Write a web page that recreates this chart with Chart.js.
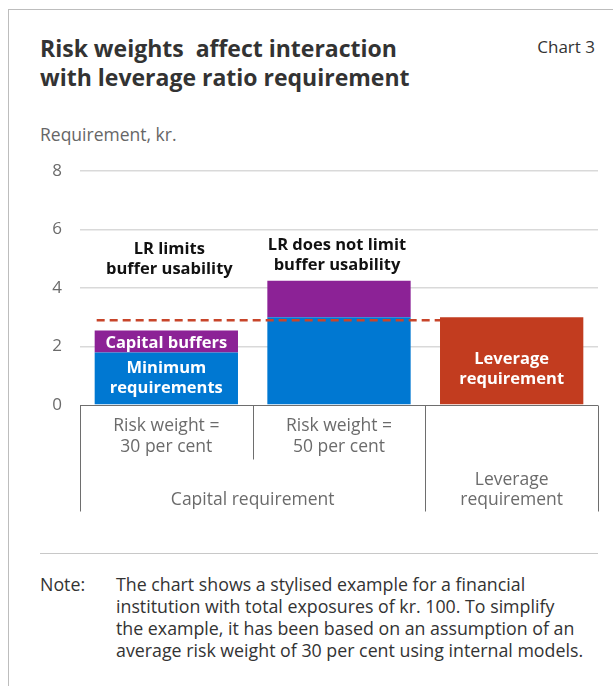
<!DOCTYPE html>
<html>
<head>
<meta charset="utf-8">
<script src="https://cdn.jsdelivr.net/npm/chart.js@4/dist/chart.umd.min.js"></script>
<style>
  body { margin: 0; background: #fff; font-family: "Open Sans", sans-serif; color: #333; }
  #frame { position: absolute; left: 8px; top: 9px; width: 640px; height: 720px;
           border-left: 1px solid #bdbdbd; border-top: 1px solid #bdbdbd; }
  .title { position: absolute; left: 40px; top: 34px; font-weight: bold; font-size: 23px;
           line-height: 29px; color: #333; white-space: nowrap; }
  .chartno { position: absolute; right: 18px; top: 36px; font-size: 17px; line-height: 22px; color: #333; }
  .unit { position: absolute; left: 40px; top: 123px; font-size: 17.5px; line-height: 22px; color: #666; }
  #wrap { position: absolute; left: 0; top: 143px; width: 613px; height: 380px; }
  .sep { position: absolute; left: 40px; top: 553px; width: 558px; border-top: 1px solid #c8c8c8; }
  .note { position: absolute; left: 40px; top: 573px; font-size: 17.8px; line-height: 22px; color: #333; }
  .note span { position: absolute; left: 76px; top: 0; white-space: nowrap; }
</style>
</head>
<body>
<div id="frame"></div>
<div class="title">Risk weights&nbsp; affect interaction<br>with leverage ratio requirement</div>
<div class="chartno">Chart 3</div>
<div class="unit">Requirement, kr.</div>
<div id="wrap"><canvas id="chart" width="613" height="380"></canvas></div>
<div class="sep"></div>
<div class="note">Note:<span>The chart shows a stylised example for a financial<br>institution with total exposures of kr. 100. To simplify<br>the example, it has been based on an assumption of an<br>average risk weight of 30 per cent using internal models.</span></div>

<script>
// categories and values (kr. per kr. 100 exposure)
const categories = ['rw30', 'rw50', 'lr'];
const minimumReq = [1.8, 3.0, null];
const capitalBuffers = [0.75, 1.25, null];
const leverageReq = [null, null, 3.0];
const leverageLine = 2.9;
const yTicks = [0, 2, 4, 6, 8];

// axis text under the bars
const subLabels = [['Risk weight =', '30 per cent'], ['Risk weight =', '50 per cent'], []];
const groupLabels = [
  { from: 0, to: 1, lines: ['Capital requirement'] },
  { from: 2, to: 2, lines: ['Leverage', 'requirement'] }
];
// text written inside the bar segments
const segmentText = [
  [['Minimum', 'requirements'], null, null],
  [['Capital buffers'], null, null],
  [null, null, ['Leverage', 'requirement']]
];
// remarks above the first two bars
const remarks = [['LR limits', 'buffer usability'], ['LR does not limit', 'buffer usability']];

const FONT = '"Open Sans", sans-serif';

const overlay = {
  id: 'overlay',
  afterDatasetsDraw(chart) {
    const ctx = chart.ctx;
    const x = chart.scales.x, y = chart.scales.y;

    // white labels inside the segments
    ctx.save();
    ctx.fillStyle = '#fff';
    ctx.font = 'bold 16.5px ' + FONT;
    ctx.textAlign = 'center';
    ctx.textBaseline = 'middle';
    segmentText.forEach((row, di) => {
      const meta = chart.getDatasetMeta(di);
      row.forEach((lines, i) => {
        if (!lines) return;
        const bar = meta.data[i];
        let cy = (bar.y + bar.base) / 2;
        if (di === 2) cy += 9;
        if (di === 1) cy += 2;
        lines.forEach((t, k) => ctx.fillText(t, bar.x, cy + (k - (lines.length - 1) / 2) * 20));
      });
    });

    // dashed leverage line from first bar to the leverage bar
    const b0 = chart.getDatasetMeta(0).data[0];
    const b2 = chart.getDatasetMeta(2).data[2];
    const ly = y.getPixelForValue(leverageLine);
    ctx.strokeStyle = '#c8452a';
    ctx.lineWidth = 2.5;
    ctx.setLineDash([8, 5]);
    ctx.beginPath();
    ctx.moveTo(b0.x - b0.width / 2 + 2, ly);
    ctx.lineTo(b2.x - b2.width / 2, ly);
    ctx.stroke();
    ctx.setLineDash([]);

    // remarks above bars
    ctx.fillStyle = '#111';
    ctx.font = 'bold 16.5px ' + FONT;
    const remarkLevel = [4.97, 5.12];
    remarks.forEach((lines, i) => {
      const cx = x.getPixelForValue(i) + (i === 0 ? 3 : -2);
      const cy = y.getPixelForValue(remarkLevel[i]);
      lines.forEach((t, k) => ctx.fillText(t, cx, cy + (k - 0.5) * 20));
    });
    ctx.restore();
  },
  afterDraw(chart) {
    const ctx = chart.ctx;
    const x = chart.scales.x, y = chart.scales.y;
    const n = categories.length;
    const cw = (x.right - x.left) / n;
    const top = y.getPixelForValue(0) + 0.5;
    const bottom = top + 106;
    const midDivider = top + 54;

    ctx.save();
    ctx.strokeStyle = '#6e6e6e';
    ctx.lineWidth = 1;
    ctx.beginPath();
    ctx.moveTo(x.left, top);
    ctx.lineTo(x.right, top);
    for (let i = 0; i <= n; i++) {
      const px = Math.round(x.left + i * cw) + 0.5;
      const inner = groupLabels.every(g => i !== g.from && i !== g.to + 1);
      ctx.moveTo(px, top);
      ctx.lineTo(px, inner ? midDivider : bottom);
    }
    ctx.stroke();

    ctx.fillStyle = '#6b6b6b';
    ctx.font = '17.5px ' + FONT;
    ctx.textAlign = 'center';
    ctx.textBaseline = 'middle';
    subLabels.forEach((lines, i) => {
      const cx = x.getPixelForValue(i);
      lines.forEach((t, k) => ctx.fillText(t, cx, top + 21 + k * 21));
    });
    groupLabels.forEach(g => {
      const cx = x.left + ((g.from + g.to + 1) / 2) * cw;
      const last = g.lines.length - 1;
      g.lines.forEach((t, k) => ctx.fillText(t, cx, top + 95 - (last - k) * 20));
    });
    ctx.restore();
  }
};

new Chart(document.getElementById('chart'), {
  type: 'bar',
  data: {
    labels: categories,
    datasets: [
      { label: 'Minimum requirements', data: minimumReq, backgroundColor: '#0078d2' },
      { label: 'Capital buffers', data: capitalBuffers, backgroundColor: '#8c2296' },
      { label: 'Leverage requirement', data: leverageReq, backgroundColor: '#c23c1f' }
    ]
  },
  options: {
    responsive: false,
    animation: false,
    events: [],
    layout: { padding: { top: 9, bottom: 118, left: 0, right: 15 } },
    datasets: { bar: { barPercentage: 0.83, categoryPercentage: 1, skipNull: false } },
    plugins: { legend: { display: false }, tooltip: { enabled: false } },
    scales: {
      x: { stacked: true, display: false },
      y: {
        stacked: true,
        min: 0, max: 8,
        afterBuildTicks(axis) { axis.ticks = yTicks.map(v => ({ value: v })); },
        afterFit(axis) { axis.width = 80; },
        border: { display: false },
        grid: {
          drawTicks: false,
          color: ctx => ctx.tick.value === 0 ? 'rgba(0,0,0,0)' : '#d9d9d9',
          lineWidth: 1.5
        },
        ticks: { padding: 18, color: '#6b6b6b', font: { family: FONT, size: 17 } }
      }
    }
  },
  plugins: [overlay]
});
</script>
</body>
</html>
